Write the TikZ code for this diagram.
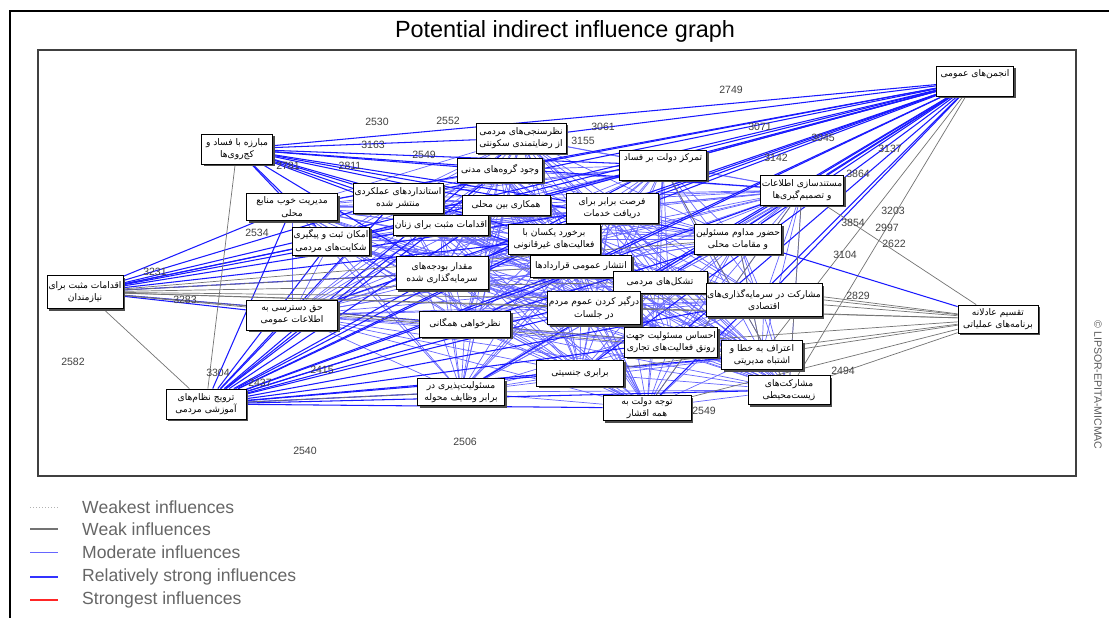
\documentclass[tikz,border=0pt]{standalone}
\usepackage{fontspec}
\setmainfont{Liberation Sans}
\newfontfamily\arabicfont[Script=Arabic]{DejaVu Sans}
\TeXXeTstate=1
\usetikzlibrary{shadows}
\pgfdeclarelayer{background}
\pgfsetlayers{background,main}
\colorlet{strongblue}{blue!90!white}
\colorlet{modblue}{blue!60!white}
\colorlet{weakgray}{black!55}
\newcommand{\fa}[1]{{\arabicfont\beginR #1\endR}}

\tikzset{
  factor/.style={draw=black, fill=white, line width=0.7pt, align=center,
    inner sep=1pt, minimum height=0.9cm, font=\fontsize{7.8}{10.5}\selectfont,
    drop shadow={shadow xshift=2pt, shadow yshift=-2pt, fill=black!70, opacity=1}},
  strong/.style={strongblue, line width=0.9pt},
  moderate/.style={modblue, line width=0.6pt},
  weak/.style={weakgray, line width=0.6pt},
  weakest/.style={black!30, dotted, line width=0.6pt},
  strongest/.style={red!85!black, line width=1.4pt},
  elabel/.style={text=black!75, font=\fontsize{9}{10}\selectfont, inner sep=0pt},
  legtext/.style={text=black!60, font=\fontsize{15}{16}\selectfont, anchor=west, inner sep=0pt},
}

\begin{document}
\begin{tikzpicture}[x=0.03cm, y=-0.03cm]
\useasboundingbox (0,0) rectangle (1109,618);

% frames and title
\draw[line width=1.8pt] (10,618) -- (10,11) -- (1109,11);
\node[font=\fontsize{20}{22}\selectfont] (title) at (565,31) {Potential indirect influence graph};
\draw[black!75, line width=1.3pt] (38,50) rectangle (1076,476);
\node[rotate=-90, text=black!65, font=\fontsize{9}{10}\selectfont] (copy) at (1098,385) {\textcopyright\ LIPSOR-EPITA-MICMAC};

% factors
\node[factor, minimum width=2.31cm] (anjoman) at (975,81) {\fa{انجمن‌های عمومی}\\\strut};
\node[factor, minimum width=2.7cm] (nazarsanji) at (521,138) {\fa{نظرسنجی‌های مردمی}\\\fa{از رضایتمندی سکونتی}};
\node[factor, minimum width=2.13cm] (mobareze) at (237,149) {\fa{مبارزه با فساد و}\\\fa{کج‌روی‌ها}};
\node[factor, minimum width=2.55cm, minimum height=0.72cm] (goruh) at (500,170) {\fa{وجود گروه‌های مدنی}};
\node[factor, minimum width=2.61cm] (tamarkoz) at (663,165) {\fa{تمرکز دولت بر فساد}\\\strut};
\node[factor, minimum width=2.7cm] (standard) at (398,198) {\fa{استانداردهای عملکردی}\\\fa{منتشر شده}};
\node[factor, minimum width=2.73cm, minimum height=0.8cm] (modiriat) at (292,207) {\fa{مدیریت خوب منابع}\\\fa{محلی}};
\node[factor, minimum width=2.64cm, minimum height=0.6cm] (hamkari) at (506,205) {\fa{همکاری بین محلی}};
\node[factor, minimum width=2.76cm] (forsat) at (612,208) {\fa{فرصت برابر برای}\\\fa{دریافت خدمات}};
\node[factor, minimum width=2.4cm] (mostanad) at (802,190) {\fa{مستندسازی اطلاعات}\\\fa{و تصمیم‌گیری‌ها}};
\node[factor, minimum width=2.79cm, minimum height=0.6cm] (zanan) at (441,225) {\fa{اقدامات مثبت برای زنان}};
\node[factor, minimum width=2.31cm, minimum height=0.84cm] (shekayat) at (331,241) {\fa{امکان ثبت و پیگیری}\\\fa{شکایت‌های مردمی}};
\node[factor, minimum width=2.76cm] (barkhord) at (554,239) {\fa{برخورد یکسان با}\\\fa{فعالیت‌های غیرقانونی}};
\node[factor, minimum width=2.61cm] (hozur) at (738,239) {\fa{حضور مداوم مسئولین}\\\fa{و مقامات محلی}};
\node[factor, minimum width=3.03cm, minimum height=0.66cm] (enteshar) at (581,266) {\fa{انتشار عمومی قراردادها}};
\node[factor, minimum width=2.76cm, minimum height=0.98cm] (budje) at (442,273) {\fa{مقدار بودجه‌های}\\\fa{سرمایه‌گذاری شده}};
\node[factor, minimum width=2.82cm, minimum height=0.66cm] (tashakkol) at (660,282) {\fa{تشکل‌های مردمی}};
\node[factor, minimum width=2.28cm, minimum height=1.0cm] (niazmand) at (85,292) {\fa{اقدامات مثبت برای}\\\fa{نیازمندان}};
\node[factor, minimum width=3.45cm, minimum height=0.98cm] (moshsarmaye) at (764,300) {\fa{مشارکت در سرمایه‌گذاری‌های}\\\fa{اقتصادی}};
\node[factor, minimum width=2.64cm, minimum height=1.0cm] (dargir) at (594,308) {\fa{درگیر کردن عموم مردم}\\\fa{در جلسات}};
\node[factor, minimum width=2.73cm] (dastresi) at (292,315) {\fa{حق دسترسی به}\\\fa{اطلاعات عمومی}};
\node[factor, minimum width=2.4cm, minimum height=0.84cm] (taghsim) at (998,319) {\fa{تقسیم عادلانه}\\\fa{برنامه‌های عملیاتی}};
\node[factor, minimum width=2.73cm, minimum height=0.78cm] (nazarkhahi) at (465,324) {\fa{نظرخواهی همگانی}};
\node[factor, minimum width=2.79cm] (ehsas) at (671,342) {\fa{احساس مسئولیت جهت}\\\fa{رونق فعالیت‌های تجاری}};
\node[factor, minimum width=2.43cm, minimum height=0.87cm] (eteraf) at (762,355) {\fa{اعتراف به خطا و}\\\fa{اشتباه مدیریتی}};
\node[factor, minimum width=2.61cm, minimum height=0.78cm] (jensiati) at (580,373) {\fa{برابری جنسیتی}};
\node[factor, minimum width=2.46cm, minimum height=0.87cm] (zist) at (789,390) {\fa{مشارکت‌های}\\\fa{زیست‌محیطی}};
\node[factor, minimum width=2.61cm, minimum height=0.81cm] (masuliat) at (461,392) {\fa{مسئولیت‌پذیری در}\\\fa{برابر وظایف محوله}};
\node[factor, minimum width=2.4cm] (tarvij) at (206,404) {\fa{ترویج نظام‌های}\\\fa{آموزشی مردمی}};
\node[factor, minimum width=2.64cm, minimum height=0.75cm] (tavajjoh) at (647,408) {\fa{توجه دولت به}\\\fa{همه اقشار}};

\def\meshlist{nazarsanji,goruh,tamarkoz,standard,modiriat,hamkari,forsat,mostanad,zanan,shekayat,barkhord,hozur,enteshar,budje,tashakkol,moshsarmaye,dargir,dastresi,nazarkhahi,ehsas,eteraf,jensiati,zist,masuliat,tavajjoh}

\begin{pgfonlayer}{background}
% moderate influences between the central factors
\foreach \a [count=\i] in \meshlist {
  \foreach \b [count=\j] in \meshlist {
    \ifnum\j>\i \draw[moderate] (\a) -- (\b); \fi
  }
}
% fans of the outer factors
\foreach \n in {nazarsanji,goruh,tamarkoz,standard,modiriat,hamkari,forsat,mostanad,zanan,shekayat,barkhord,hozur,enteshar,budje,tashakkol,moshsarmaye,dargir,dastresi,nazarkhahi,ehsas,jensiati,masuliat,tavajjoh,mobareze,niazmand}
  \draw[strong] (anjoman) -- (\n);
\foreach \n in {zist,eteraf}
  \draw[weak] (anjoman) -- (\n);
\foreach \n in \meshlist
  \draw[strong] (tarvij) -- (\n);
\foreach \n in {nazarsanji,goruh,tamarkoz,standard,hamkari,forsat,mostanad,zanan,barkhord,hozur,modiriat,shekayat,budje,enteshar}
  \draw[strong] (mobareze) -- (\n);
\foreach \n in {budje,shekayat,dastresi,zanan,barkhord,nazarkhahi,modiriat,standard,hamkari,forsat}
  \draw[strong] (niazmand) -- (\n);
\foreach \n in {taghsim,moshsarmaye,tashakkol,enteshar,dargir,hozur,eteraf,ehsas}
  \draw[weak] (niazmand) -- (\n);
\foreach \n in {moshsarmaye,eteraf,zist,tavajjoh,ehsas,tashakkol,dargir,enteshar,jensiati,mostanad}
  \draw[weak] (taghsim) -- (\n);
\draw[strong] (taghsim) -- (hozur);
\draw[weak] (mobareze) -- (tarvij);
\draw[weak] (niazmand) -- (tarvij);
\draw[weak] (tarvij) -- (masuliat);
\draw[weak] (mostanad) -- (zist);
\draw[weak] (hozur) -- (eteraf);
\draw[weak] (mostanad) -- (tavajjoh);
\draw[weak] (tamarkoz) -- (zist);
\draw[strongest] (enteshar) -- (tashakkol);

% influence values
\foreach \lx/\ly/\lt [count=\k] in {731/90/2749, 603/127/3061, 760/127/3071, 823/138/3045,
  890/149/3137, 776/158/3142, 858/174/3864, 448/121/2552, 377/122/2530, 373/145/3163,
  583/141/3155, 288/166/2781, 350/166/2811, 424/155/2549, 853/223/3854, 893/211/3203,
  887/228/2997, 894/244/2622, 845/255/3104, 257/233/2534, 155/272/3231, 185/300/3283,
  73/362/2582, 218/373/3304, 260/383/2437, 322/370/2415, 305/451/2540, 465/442/2506,
  843/371/2494, 704/411/2549, 858/296/2829}
  \node[elabel] (v\k) at (\lx,\ly) {\lt};
\end{pgfonlayer}

% legend
\coordinate (l1a) at (30,507); \coordinate (l1b) at (58,507);
\coordinate (l2a) at (30,529); \coordinate (l2b) at (58,529);
\coordinate (l3a) at (30,552); \coordinate (l3b) at (58,552);
\coordinate (l4a) at (30,577); \coordinate (l4b) at (58,577);
\coordinate (l5a) at (30,600); \coordinate (l5b) at (58,600);
\draw[weakest] (l1a) -- (l1b);
\draw[black!55, line width=1pt] (l2a) -- (l2b);
\draw[modblue, line width=0.8pt] (l3a) -- (l3b);
\draw[blue!80!white, line width=2pt] (l4a) -- (l4b);
\draw[red!85!white, line width=2pt] (l5a) -- (l5b);
\node[legtext] (t1) at (82,507) {Weakest influences};
\node[legtext] (t2) at (82,529) {Weak influences};
\node[legtext] (t3) at (82,552) {Moderate influences};
\node[legtext] (t4) at (82,577) {Relatively strong influences};
\node[legtext] (t5) at (82,600) {Strongest influences};
\end{tikzpicture}
\end{document}
